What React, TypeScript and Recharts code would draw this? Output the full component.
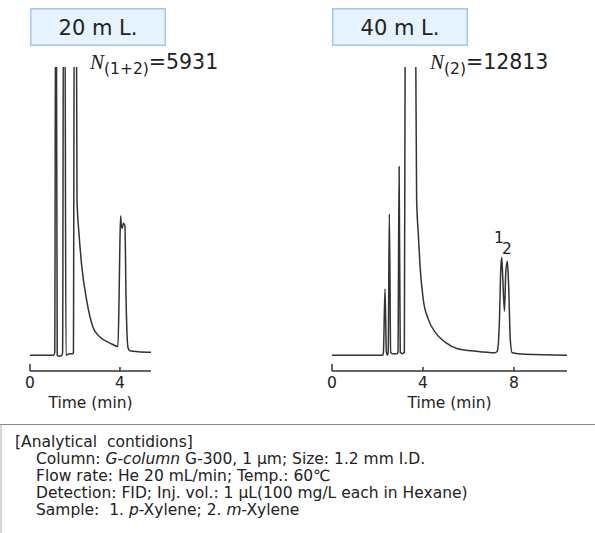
import React from 'react';
import { LineChart, Line, XAxis, YAxis, ReferenceDot } from 'recharts';

// ---- data ----
// 20 m column (left)
const leftTime = [0, 1.05, 1.1, 1.14, 1.17, 1.21, 1.3, 1.42, 1.45, 1.49, 1.55, 1.6, 1.75, 1.9, 1.93, 1.97, 2.04, 2.07, 2.09, 2.18, 2.3, 2.52, 2.8, 3.11, 3.56, 3.91, 3.96, 4.0, 4.03, 4.06, 4.1, 4.15, 4.22, 4.27, 4.36, 4.45, 4.8, 5.38];
const leftSignal = [0, 0, 0.01, 1.3, 1.3, 0, -0.004, 0, 0.01, 1.3, 1.3, 0, 0.005, 0.005, 0.01, 1.3, 1.3, 1.05, 0.54, 0.42, 0.31, 0.19, 0.097, 0.063, 0.042, 0.03, 0.2, 0.4, 0.483, 0.45, 0.44, 0.458, 0.45, 0.2, 0.025, 0.015, 0.012, 0.01];

// 40 m column (right)
const rightTime = [0, 2.22, 2.26, 2.33, 2.39, 2.44, 2.47, 2.52, 2.58, 2.65, 2.86, 2.9, 2.95, 3.0, 3.1, 3.18, 3.22, 3.45, 3.67, 3.72, 3.79, 3.87, 4.01, 4.23, 4.53, 4.97, 5.56, 6.15, 7.16, 7.27, 7.36, 7.42, 7.46, 7.5, 7.58, 7.64, 7.71, 7.76, 7.84, 7.92, 8.5, 10.33];
const rightSignal = [0, 0, 0.01, 0.23, 0.01, 0, 0.01, 0.49, 0.01, 0.005, 0.005, 0.01, 0.654, 0.01, 0.005, 0.01, 1.2, 2.0, 1.2, 0.54, 0.426, 0.309, 0.194, 0.125, 0.08, 0.045, 0.021, 0.015, 0.008, 0.015, 0.12, 0.3, 0.34, 0.28, 0.153, 0.29, 0.326, 0.25, 0.05, 0.008, 0.003, 0];

const leftTicks = [0, 4];
const rightTicks = [0, 4, 8];
const leftDomain = [0, 5.38];
const rightDomain = [0, 10.33];
const signalDomain = [-0.055, 1];

const titles = ['20 m L.', '40 m L.'];
const plateSubscripts = ['(1+2)', '(2)'];
const plateValues = ['=5931', '=12813'];

const peakLabelTimes = [7.34, 7.69];
const peakLabelSignals = [0.408, 0.37];
const peakLabelTexts = ['1', '2'];

const conditionsHeader = '[Analytical  contidions]';
const conditionLines: { text: string; italic?: boolean }[][] = [
  [{ text: 'Column: ' }, { text: 'G-column', italic: true }, { text: ' G-300, 1 µm; Size: 1.2 mm I.D.' }],
  [{ text: 'Flow rate: He 20 mL/min; Temp.: 60℃' }],
  [{ text: 'Detection: FID; Inj. vol.: 1 µL(100 mg/L each in Hexane)' }],
  [{ text: 'Sample:  1. ' }, { text: 'p', italic: true }, { text: '-Xylene; 2. ' }, { text: 'm', italic: true }, { text: '-Xylene' }],
];

const SANS = '"DejaVu Sans", Verdana, sans-serif';
const SERIF = '"Liberation Serif", "DejaVu Serif", serif';
const INK = '#222';

const leftData = leftTime.map((t, i) => ({ t, v: leftSignal[i] }));
const rightData = rightTime.map((t, i) => ({ t, v: rightSignal[i] }));

const TimeTick = (props: any) => {
  const { x, y, payload } = props;
  const len = payload.value === 0 ? 7 : 4;
  return (
    <g>
      <line x1={x} y1={y} x2={x} y2={y - len} stroke="#333" strokeWidth={1.5} />
      <text x={x} y={y + 17} textAnchor="middle" fontSize={15.5} fill={INK} fontFamily={SANS}>
        {payload.value}
      </text>
    </g>
  );
};

function Chromatogram(props: {
  data: { t: number; v: number }[];
  domain: number[];
  ticks: number[];
  width: number;
  left: number;
  right: number;
  labels?: boolean;
}) {
  const { data, domain, ticks, width, left, right, labels } = props;
  return (
    <LineChart width={width} height={416} data={data} margin={{ top: 67, right, left, bottom: 0 }}>
      <XAxis
        dataKey="t"
        type="number"
        domain={domain}
        ticks={ticks}
        interval={0}
        tickSize={0}
        tickMargin={0}
        tickLine={false}
        tick={<TimeTick />}
        height={45}
        axisLine={{ stroke: '#333', strokeWidth: 1.5 }}
        label={{ value: 'Time (min)', position: 'insideBottom', offset: 8, fontSize: 15.5, fill: INK, fontFamily: SANS }}
      />
      <YAxis type="number" domain={signalDomain} allowDataOverflow hide width={0} />
      <Line
        type="monotone"
        dataKey="v"
        stroke="#333"
        strokeWidth={1.5}
        dot={false}
        isAnimationActive={false}
      />
      {labels &&
        peakLabelTimes.map((t, i) => (
          <ReferenceDot
            key={i}
            x={t}
            y={peakLabelSignals[i]}
            r={0}
            fill="none"
            stroke="none"
            label={{ value: peakLabelTexts[i], position: 'center', fontSize: 15.5, fill: INK, fontFamily: SANS }}
          />
        ))}
    </LineChart>
  );
}

export default function App() {
  const titleBoxes = [
    { x: 30, cx: 98, nx: 90 },
    { x: 332, cx: 400, nx: 430 },
  ];
  const baselines = [464, 481, 498, 515];
  return (
    <div style={{ position: 'absolute', left: 0, top: 0, width: 595, height: 533, background: '#fff', overflow: 'hidden' }}>
      <div style={{ position: 'absolute', left: 0, top: 0 }}>
        <Chromatogram data={leftData} domain={leftDomain} ticks={leftTicks} width={160} left={30} right={9} />
      </div>
      <div style={{ position: 'absolute', left: 300, top: 0 }}>
        <Chromatogram data={rightData} domain={rightDomain} ticks={rightTicks} width={280} left={32} right={13} labels />
      </div>
      <svg width={595} height={533} style={{ position: 'absolute', left: 0, top: 0, pointerEvents: 'none' }}>
        {titleBoxes.map((b, i) => (
          <g key={i}>
            <rect x={b.x + 0.75} y={8.75} width={134.5} height={36.5} fill="#e6f3fc" stroke="#a3c6ea" strokeWidth={1.5} />
            <text x={b.cx} y={35} textAnchor="middle" fontSize={21} fill={INK} fontFamily={SANS}>
              {titles[i]}
            </text>
            <text x={b.nx} y={69} fontSize={20.5} fill={INK} fontFamily={SANS}>
              <tspan fontFamily={SERIF} fontStyle="italic" fontSize={21}>N</tspan>
              <tspan fontSize={15.5} dy={5}>{plateSubscripts[i]}</tspan>
              <tspan dy={-5}>{plateValues[i]}</tspan>
            </text>
          </g>
        ))}
        <line x1={0} y1={424.5} x2={595} y2={424.5} stroke="#8a8a8a" strokeWidth={1} />
        <line x1={1} y1={425} x2={1} y2={533} stroke="#c8c8c8" strokeWidth={1.5} />
        <text x={15} y={447} fontSize={15.5} fill={INK} fontFamily={SANS} style={{ whiteSpace: 'pre' }}>
          {conditionsHeader}
        </text>
        {conditionLines.map((segs, i) => (
          <text key={i} x={36} y={baselines[i]} fontSize={15.5} fill={INK} fontFamily={SANS} style={{ whiteSpace: 'pre' }}>
            {segs.map((s, j) => (
              <tspan key={j} fontStyle={s.italic ? 'italic' : 'normal'}>
                {s.text}
              </tspan>
            ))}
          </text>
        ))}
      </svg>
    </div>
  );
}
